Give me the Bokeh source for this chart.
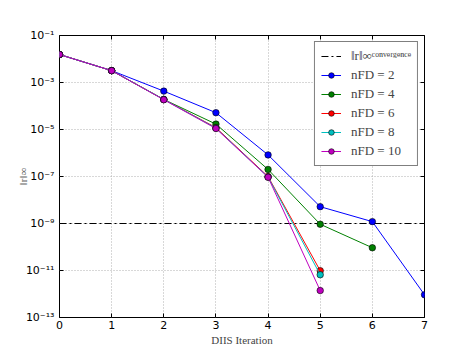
from bokeh.plotting import figure
from bokeh.models import (FixedTicker, CustomJSTickFormatter, Legend, LegendItem, ColumnDataSource,
                          LinearAxis, LogAxis)
from bokeh.embed import file_html
from bokeh.resources import INLINE

iters = [0, 1, 2, 3, 4, 5, 6, 7]
n2 = [1.55e-2, 3.2e-3, 4.3e-4, 5.2e-5, 8.3e-7, 5.2e-9, 1.2e-9, 9.3e-13]
n4 = [1.55e-2, 3.2e-3, 1.9e-4, 1.7e-5, 2.0e-7, 9.3e-10, 9.3e-11]
n6 = [1.55e-2, 3.2e-3, 1.9e-4, 1.2e-5, 1.0e-7, 9.8e-12]
n8 = [1.55e-2, 3.2e-3, 1.9e-4, 1.15e-5, 9.5e-8, 6.6e-12]
n10 = [1.55e-2, 3.2e-3, 1.85e-4, 1.1e-5, 9.3e-8, 1.4e-12]
convergence = 1e-9
y_ticks = [1e-1, 1e-3, 1e-5, 1e-7, 1e-9, 1e-11, 1e-13]
x_ticks = [0, 1, 2, 3, 4, 5, 6, 7]

series = [
    ("nFD = 2", n2, "#0000ff"),
    ("nFD = 4", n4, "#008000"),
    ("nFD = 6", n6, "#ff0000"),
    ("nFD = 8", n8, "#00bfbf"),
    ("nFD = 10", n10, "#bf00bf"),
]

p = figure(width=471, height=353, y_axis_type="log", x_range=(0, 7), y_range=(1e-13, 1e-1),
           output_backend="svg", toolbar_location=None,
           min_border_left=59, min_border_right=47, min_border_top=35, min_border_bottom=36)
p.outline_line_color = "black"
p.outline_line_width = 1
p.background_fill_color = "white"
p.border_fill_color = "white"

bottom_axis = p.below[0]
left_axis = p.left[0]

items = []
hs = p.hspan(y=[convergence], line_color="black", line_dash="7 3 2 3", line_width=1)
items.append(LegendItem(label="‖r‖∞ᶜᵒⁿᵛᵉʳᵍᵉⁿᶜᵉ", renderers=[hs]))

for label, vals, color in series:
    src = ColumnDataSource(dict(x=iters[:len(vals)], y=vals))
    ln = p.line("x", "y", source=src, line_color=color, line_width=1)
    sc = p.scatter("x", "y", source=src, size=6.5, fill_color=color, line_color="black", line_width=0.6)
    items.append(LegendItem(label=label, renderers=[ln, sc]))

legend = Legend(items=items, location="top_right", border_line_color="black", border_line_width=1,
                label_text_font="Liberation Serif", label_text_font_size="13px",
                glyph_width=20, glyph_height=14, spacing=3, padding=6, margin=6,
                label_standoff=10, background_fill_alpha=1)
p.add_layout(legend, "center")

top_axis = LinearAxis(ticker=FixedTicker(ticks=x_ticks), major_label_text_color=None,
                      major_label_text_font_size="6px", major_label_standoff=0)
right_axis = LogAxis(ticker=FixedTicker(ticks=y_ticks, minor_ticks=[]), major_label_text_color=None,
                     major_label_text_font_size="6px", major_label_standoff=0)
p.add_layout(top_axis, "above")
p.add_layout(right_axis, "right")

bottom_axis.ticker = FixedTicker(ticks=x_ticks)
left_axis.ticker = FixedTicker(ticks=y_ticks, minor_ticks=[])
left_axis.formatter = CustomJSTickFormatter(code="""
const e = Math.round(Math.log10(tick));
const sup = {'-':'⁻','0':'⁰','1':'¹','2':'²','3':'³','4':'⁴','5':'⁵','6':'⁶','7':'⁷','8':'⁸','9':'⁹'};
return '10' + String(e).split('').map(c => sup[c]).join('');
""")
for ax in [bottom_axis, left_axis, top_axis, right_axis]:
    ax.major_tick_in = 4
    ax.major_tick_out = 0
    ax.minor_tick_in = 0
    ax.minor_tick_out = 0
    ax.axis_line_color = None
for ax in [bottom_axis, left_axis]:
    ax.major_label_text_font = "DejaVu Sans"
    ax.major_label_text_font_size = "11px"
    ax.major_label_text_color = "black"
    ax.axis_label_text_font_style = "normal"
    ax.axis_label_text_font_size = "11px"
    ax.axis_label_text_font = "Liberation Serif"

bottom_axis.axis_label = "DIIS Iteration"
bottom_axis.axis_label_standoff = 2
bottom_axis.major_label_standoff = 3
left_axis.axis_label = "‖r‖∞"
left_axis.axis_label_standoff = -6
left_axis.axis_label_text_color = "#666666"
left_axis.major_label_standoff = 5

p.xgrid.grid_line_color = "#b0b0b0"
p.ygrid.grid_line_color = "#b0b0b0"
p.xgrid.grid_line_dash = "1 2"
p.ygrid.grid_line_dash = "1 2"

open("out.html", "w").write(file_html(p, INLINE))
